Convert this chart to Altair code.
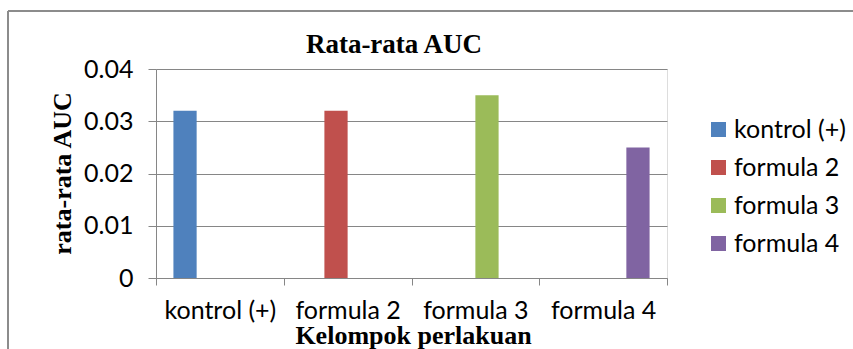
import altair as alt
import pandas as pd

categories = ["kontrol (+)", "formula 2", "formula 3", "formula 4"]
series = ["kontrol (+)", "formula 2", "formula 3", "formula 4"]
values = [0.032, 0.032, 0.035, 0.025]
colors = ["#4F81BD", "#C0504D", "#9BBB59", "#8064A2"]
y_ticks = [0, 0.01, 0.02, 0.03, 0.04]
chart_title = "Rata-rata AUC"

df = pd.DataFrame({"kelompok": categories, "seri": series, "auc": values})
one = pd.DataFrame({"k": [0]})

W, H = 511, 209
GRAY = "#868686"
LABEL_FONT = "Lato"
TITLE_FONT = "Liberation Serif"
LFS = 25

bars = alt.Chart(df).mark_bar().encode(
    x=alt.X(
        "kelompok:N",
        sort=categories,
        scale=alt.Scale(domain=categories, paddingInner=0, paddingOuter=0),
        axis=alt.Axis(
            title="Kelompok perlakuan",
            titleFont=TITLE_FONT, titleFontSize=26, titleFontWeight="bold",
            titleColor="black",
            titleX=257, titleY=65, titleBaseline="alphabetic", titleAnchor="middle",
            labelFont=LABEL_FONT, labelFontSize=LFS, labelColor="black",
            labelAngle=0, labelPadding=13,
            tickBand="extent", tickSize=7, tickColor=GRAY,
            domainColor=GRAY, grid=False,
        ),
    ),
    xOffset=alt.XOffset(
        "seri:N",
        scale=alt.Scale(domain=series, paddingInner=0, paddingOuter=0.75),
    ),
    y=alt.Y(
        "auc:Q",
        scale=alt.Scale(domain=[0, 0.04], nice=False),
        axis=alt.Axis(
            title="rata-rata AUC",
            values=y_ticks, format="~g",
            titleFont=TITLE_FONT, titleFontSize=26, titleFontWeight="bold",
            titleColor="black",
            titleX=-86, titleY=104, titleAngle=270, titleBaseline="alphabetic",
            titleAlign="center",
            labelFont=LABEL_FONT, labelFontSize=LFS, labelColor="black",
            labelPadding=15,
            tickSize=8, tickColor=GRAY, domainColor=GRAY,
            grid=True, gridColor=GRAY, gridWidth=1,
        ),
    ),
    color=alt.Color(
        "seri:N",
        scale=alt.Scale(domain=series, range=colors),
        legend=alt.Legend(
            title=None, orient="none", legendX=550, legendY=48,
            symbolType="square", symbolSize=225, symbolStrokeWidth=0,
            labelFont=LABEL_FONT, labelFontSize=LFS, labelColor="black",
            labelOffset=3, rowPadding=12, padding=0,
        ),
    ),
)

title_text = alt.Chart(one).mark_text(
    font=TITLE_FONT, fontSize=27, fontWeight="bold", color="black",
    align="center", baseline="alphabetic",
).encode(x=alt.value(238), y=alt.value(-16), text=alt.value(chart_title))

border_top = alt.Chart(one).mark_rule(color="#8c8c8c", strokeWidth=2).encode(
    x=alt.value(-148), x2=alt.value(W + 200), y=alt.value(-58)
)
border_left = alt.Chart(one).mark_rule(color="#8c8c8c", strokeWidth=2).encode(
    x=alt.value(-148), y=alt.value(-58), y2=alt.value(H + 80)
)

chart = alt.layer(bars, title_text, border_top, border_left).properties(
    width=W, height=H,
    autosize=alt.AutoSizeParams(type="none"),
    padding={"left": 156, "top": 69, "right": 186, "bottom": 71},
).configure_view(stroke=None).configure(background="white")

chart.save("out.html", embed_options={"renderer": "svg", "actions": False})
